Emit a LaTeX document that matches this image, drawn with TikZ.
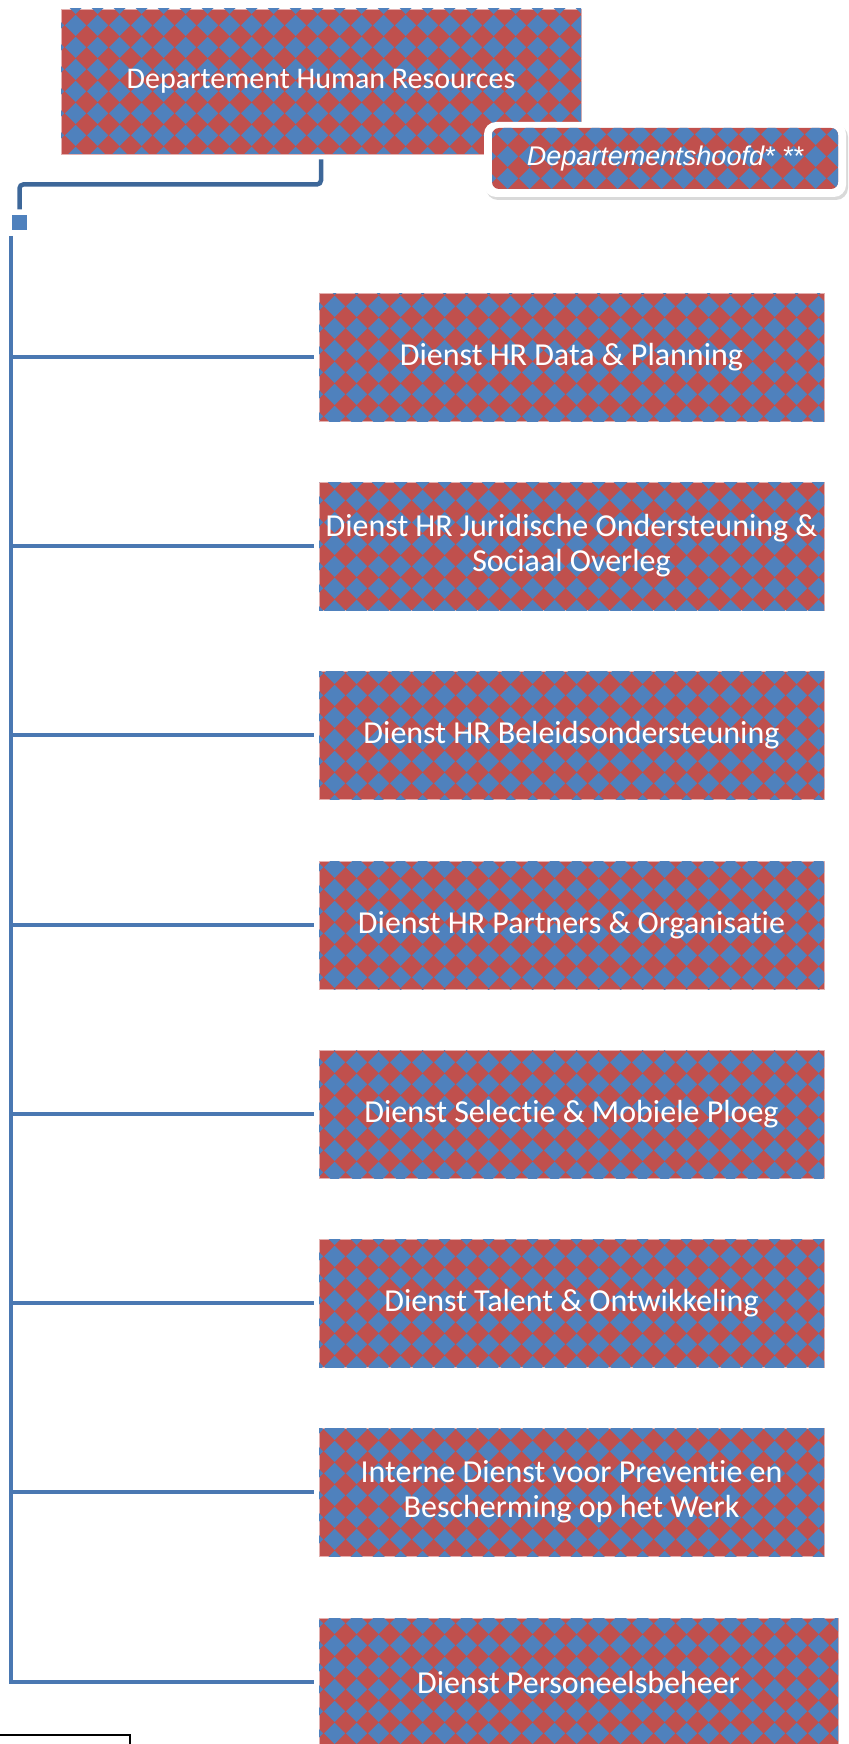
\documentclass[tikz,border=0pt]{standalone}
\usepackage{fontspec}
\setmainfont{Carlito}[Ligatures=NoCommon]
\newfontfamily\arialfont{Liberation Sans}
\usepackage{tikz}
\usetikzlibrary{patterns,shadows}

\definecolor{hrred}{HTML}{C0504D}
\definecolor{hrblue}{HTML}{4F81BD}
\definecolor{hrline}{HTML}{4A78B2}
\definecolor{hrdark}{HTML}{3D6799}

\pgfdeclarepatternformonly{hrdiamond}{\pgfqpoint{0pt}{0pt}}{\pgfqpoint{21.6pt}{21.6pt}}{\pgfqpoint{21.6pt}{21.6pt}}{
	\pgfpathmoveto{\pgfqpoint{0pt}{10.8pt}}
	\pgfpathlineto{\pgfqpoint{10.8pt}{0pt}}
	\pgfpathlineto{\pgfqpoint{21.6pt}{10.8pt}}
	\pgfpathlineto{\pgfqpoint{10.8pt}{21.6pt}}
	\pgfpathclose
	\pgfusepath{fill}
}

\begin{document}
\begin{tikzpicture}[x=1pt,y=-1pt,
	unit/.style={fill=hrred, postaction={pattern=hrdiamond, pattern color=hrblue}, text=white, inner sep=0pt,
		draw=hrred!45!white, line width=0.8pt,
		minimum width=505pt, minimum height=128pt, align=center, font=\fontsize{32}{35}\selectfont},
	link/.style={draw=hrline, line width=4.5pt},
	junction/.style={fill=hrblue, inner sep=0pt, minimum size=15pt}]
	\useasboundingbox (0,0) rectangle (848,1744);

	\node[unit, minimum width=520pt, minimum height=145pt, font=\fontsize{30}{34}\selectfont] (hr) at (321,81.5) {Departement Human Resources};
	\node[fill=white, rounded corners=12pt, minimum width=362pt, minimum height=75pt,
		drop shadow={opacity=0.3, shadow xshift=2pt, shadow yshift=-3pt}] (headframe) at (665,159.5) {};
	\node[unit, draw=none, rounded corners=7pt, minimum width=346pt, minimum height=61pt,
		font=\arialfont\itshape\fontsize{27}{30}\selectfont] (head) at (665,158.5) {Departementshoofd* **};

	\node[junction] (jn) at (19.5,223) {};
	\coordinate (spine) at (11,236);

	\node[unit] (d1) at (571.5,357) {Dienst HR Data \& Planning};
	\node[unit] (d2) at (571.5,546) {Dienst HR Juridische Ondersteuning \&\\Sociaal Overleg};
	\node[unit] (d3) at (571.5,735) {Dienst HR Beleidsondersteuning};
	\node[unit] (d4) at (571.5,925) {Dienst HR Partners \& Organisatie};
	\node[unit] (d5) at (571.5,1114) {Dienst Selectie \& Mobiele Ploeg};
	\node[unit] (d6) at (571.5,1303) {Dienst Talent \& Ontwikkeling};
	\node[unit] (d7) at (571.5,1492) {Interne Dienst voor Preventie en\\Bescherming op het Werk};
	\node[unit, minimum width=519pt] (d8) at (578.5,1682) {Dienst Personeelsbeheer};

	\node[draw=black, line width=1.5pt, minimum width=150pt, minimum height=40pt] (note) at (55,1755) {};

	\draw[link, draw=hrdark, rounded corners=4pt, shorten <=5pt, shorten >=6pt] (hr.south) -- ++(0,30) -| (jn.north);
	\draw[link, shorten >=5pt] (spine) |- (d8.west);
	\foreach \i in {1,...,7}
		\draw[link, shorten >=5pt] (spine |- d\i.west) -- (d\i.west);
\end{tikzpicture}
\end{document}
